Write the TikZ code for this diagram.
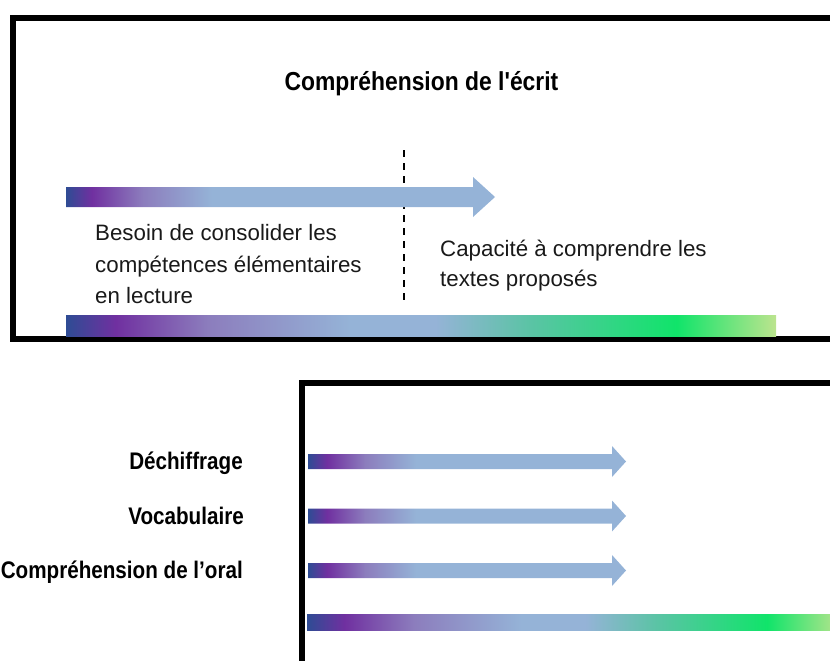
\documentclass[tikz,border=0pt]{standalone}
\usepackage{fontspec}
\setmainfont{Liberation Sans}
\newfontfamily\condbold[FakeStretch=0.88]{Liberation Sans Bold}
\newfontfamily\condboldb[FakeStretch=0.86]{Liberation Sans Bold}
\definecolor{cdb}{HTML}{2E4C94}
\definecolor{cpu}{HTML}{7030A0}
\definecolor{cla}{HTML}{8C7DBD}
\definecolor{clb}{HTML}{95B3D7}
\definecolor{cte}{HTML}{5CC3A6}
\definecolor{cgr}{HTML}{10E46A}
\definecolor{clg}{HTML}{BCE48E}
\pgfdeclarehorizontalshading{longgrad}{100bp}{color(0bp)=(cdb); color(25bp)=(cdb); color(28.5bp)=(cpu); color(35bp)=(cla); color(45bp)=(clb); color(51bp)=(clb); color(57.5bp)=(cte); color(68bp)=(cgr); color(75bp)=(clg); color(100bp)=(clg)}
\pgfdeclarehorizontalshading{arrowgrad}{100bp}{color(0bp)=(cdb); color(25bp)=(cdb); color(28bp)=(cpu); color(34bp)=(cla); color(42bp)=(clb); color(75bp)=(clb); color(100bp)=(clb)}
\tikzset{
  frame/.style={draw=black,line width=6pt},
  dashline/.style={draw=black,line width=2pt,dash pattern=on 7pt off 6pt},
  titletext/.style={inner sep=0pt,font=\condbold\fontsize{26}{30}\selectfont},
  labtext/.style={inner sep=0pt,font=\condboldb\fontsize{24}{28}\selectfont,anchor=base east},
  bodytext/.style={inner sep=0pt,font=\fontsize{22.3}{26}\selectfont,anchor=base west,text=black!90}
}
\begin{document}
\begin{tikzpicture}[x=1pt,y=-1pt]
\useasboundingbox (0,0) rectangle (830,661);
\clip (0,0) rectangle (830,661);
% frames
\draw[frame] (13,18) rectangle (870,339);
\draw[frame] (302,383) rectangle (870,700);
% dashed separator
\coordinate (dtop) at (404,150);
\coordinate (dbot) at (404,302);
\draw[dashline] (dtop) -- (dbot);
% top arrow
\shade[shading=arrowgrad] (66,187) -- (473,187) -- (473,177) -- (495,197) -- (473,217) -- (473,207) -- (66,207) -- cycle;
% top long bar
\shade[shading=longgrad] (66,315) rectangle (776,336);
% title
\node[titletext,anchor=base] (title) at (421.5,90) {Compréhension de l'écrit};
% left text
\node[bodytext] (l1) at (95,240) {Besoin de consolider les};
\node[bodytext] (l2) at (95,272) {compétences élémentaires};
\node[bodytext] (l3) at (95,303) {en lecture};
% right text
\node[bodytext] (r1) at (440,256) {Capacité à comprendre les};
\node[bodytext] (r2) at (440,286) {textes proposés};
% bottom labels
\node[labtext] (dech) at (243,469) {Déchiffrage};
\node[labtext] (voc) at (244,524) {Vocabulaire};
\node[labtext] (oral) at (243,578) {Compréhension de l’oral};
% small arrows
\foreach \c in {461.5,516,570.5}
  \shade[shading=arrowgrad] (308,\c-7.5) -- (612,\c-7.5) -- (612,\c-15.5) -- (626,\c) -- (612,\c+15.5) -- (612,\c+7.5) -- (308,\c+7.5) -- cycle;
% bottom long bar
\shade[shading=longgrad] (307,614) rectangle (842,630);
\end{tikzpicture}
\end{document}
